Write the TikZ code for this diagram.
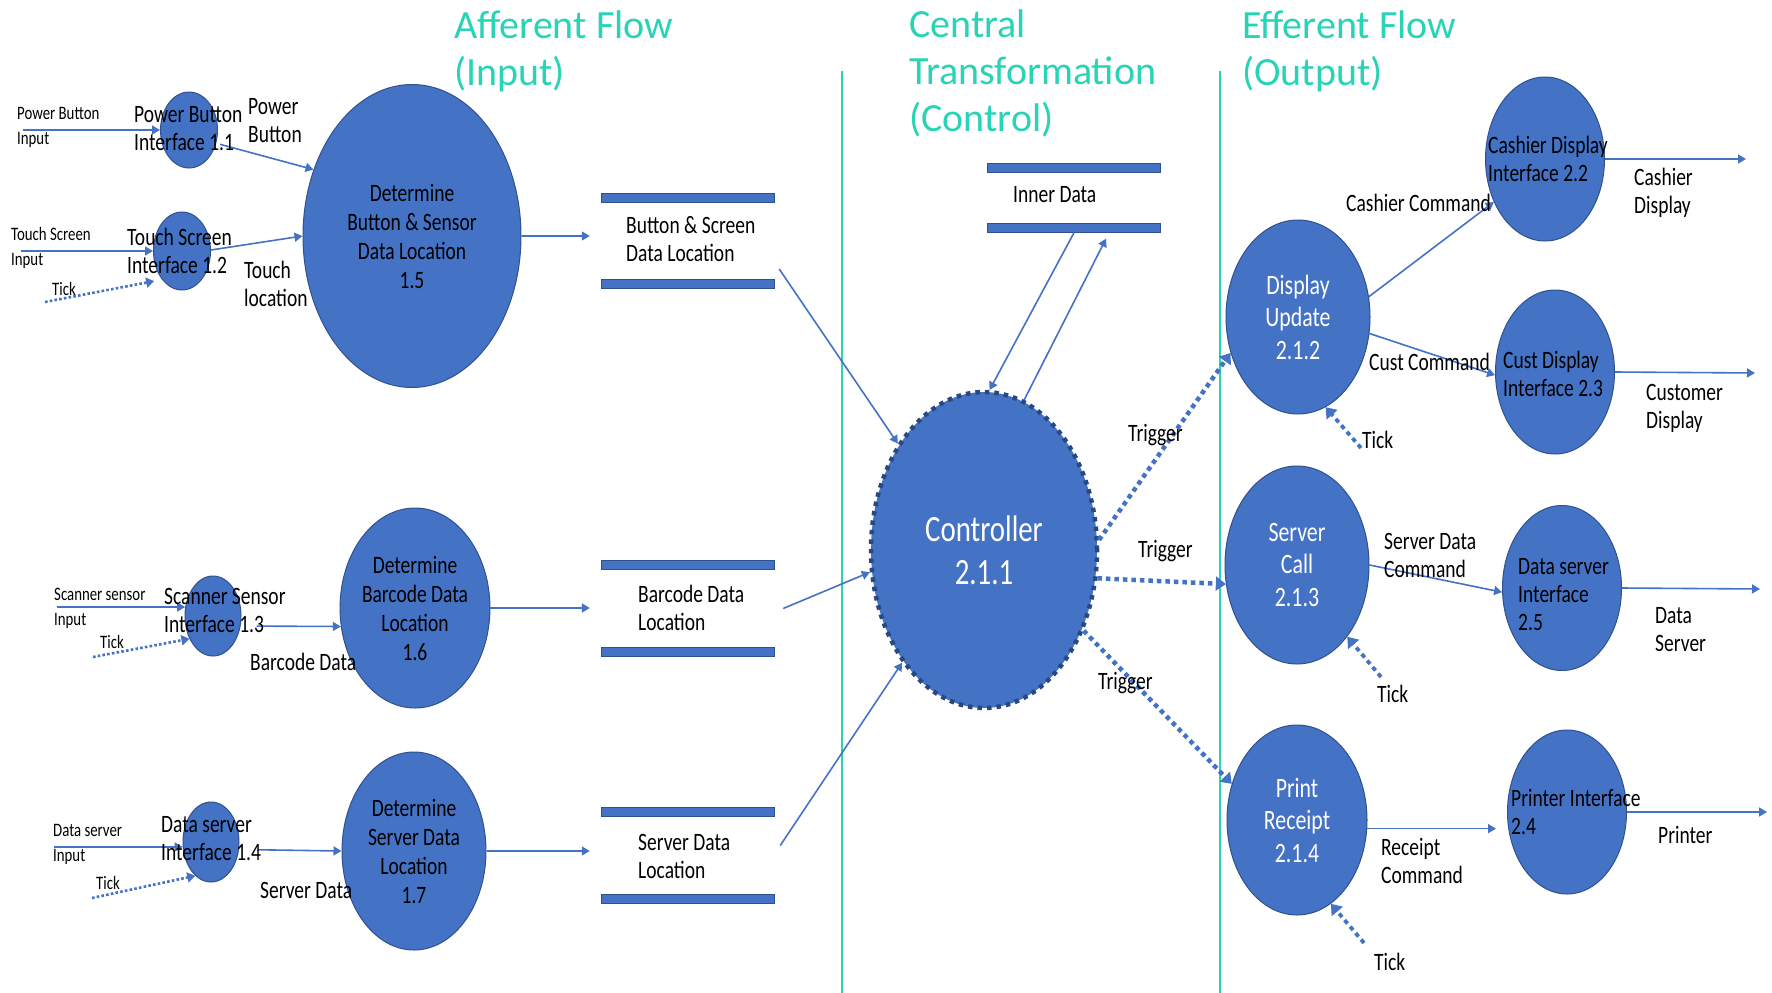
\documentclass[tikz,border=0pt]{standalone}
\usepackage{fontspec}
\setmainfont[FakeStretch=0.78]{Carlito}
\newfontfamily\ttlfont{Carlito}
\usepackage{tikz}
\usetikzlibrary{shapes.geometric,arrows.meta}

\begin{document}
\begin{tikzpicture}[x=1pt,y=1pt,yscale=-1,xscale=1,
  proc/.style={ellipse,fill={rgb,255:red,68;green,114;blue,196},draw={rgb,255:red,47;green,82;blue,143},line width=1pt,inner sep=0pt,align=center,font=\fontsize{25}{29}\selectfont},
  wproc/.style={proc,text=white,font=\fontsize{28}{32.5}\selectfont},
  ctrl/.style={proc,text=white,draw={rgb,255:red,40;green,72;blue,130},line width=4.5pt,dash pattern={on 4.5pt off 5pt},font=\fontsize{37}{43}\selectfont},
  store/.style={minimum width=172pt,inner sep=0pt},
  bar/.style={fill={rgb,255:red,68;green,114;blue,196},draw={rgb,255:red,47;green,82;blue,143},line width=0.8pt},
  flow/.style={draw={rgb,255:red,68;green,114;blue,196},line width=1.6pt,-{Triangle[width=9pt,length=8pt]}},
  trig/.style={draw={rgb,255:red,68;green,114;blue,196},line width=4.5pt,dash pattern={on 4.5pt off 4pt},-{Triangle[width=14pt,length=10pt]}},
  tickl/.style={draw={rgb,255:red,68;green,114;blue,196},line width=2.6pt,dash pattern={on 2.6pt off 2.2pt},-{Triangle[width=10pt,length=8pt]}},
  sep/.style={draw={rgb,255:red,41;green,211;blue,182},line width=1.8pt},
  ttl/.style={anchor=west,align=left,inner sep=0pt,text={rgb,255:red,41;green,211;blue,182},font=\ttlfont\fontsize{40}{47}\selectfont},
  lbl/.style={anchor=west,align=left,inner sep=0pt,font=\fontsize{25}{28}\selectfont},
  sml/.style={anchor=west,align=left,inner sep=0pt,font=\fontsize{19}{25}\selectfont}]
\useasboundingbox (0,0) rectangle (1772,993);
\fill[white] (0,0) rectangle (1772,993);

%Titles
\node[ttl] (ttlin) at (454,51) {Afferent Flow\\(Input)};
\node[ttl] (ttlctl) at (909,73) {Central\\Transformation\\(Control)};
\node[ttl] (ttlout) at (1242,51) {Efferent Flow\\(Output)};
%Straight Lines
\draw[sep] (842,71) -- (842,993);
\draw[sep] (1220,71) -- (1220,993);

%Shapes: processes
\node[proc,minimum width=57pt,minimum height=76pt] (p11) at (189,130) {};
\node[proc,minimum width=57pt,minimum height=78pt] (p12) at (182,251) {};
\node[proc,minimum width=56pt,minimum height=80pt] (p13) at (213,616) {};
\node[proc,minimum width=56pt,minimum height=80pt] (p14) at (211,842) {};
\node[proc,minimum width=218pt,minimum height=303pt] (p15) at (412,236) {Determine\\Button \& Sensor\\Data Location\\1.5};
\node[proc,minimum width=144pt,minimum height=200pt] (p16) at (415,608) {Determine\\Barcode Data\\Location\\1.6};
\node[proc,minimum width=144pt,minimum height=198pt] (p17) at (414,851) {Determine\\Server Data\\Location\\1.7};
\node[ctrl,minimum width=226pt,minimum height=316pt] (ctl) at (984,550) {Controller\\2.1.1};
\node[wproc,minimum width=144pt,minimum height=194pt] (du) at (1298,317) {Display\\Update\\2.1.2};
\node[wproc,minimum width=144pt,minimum height=198pt] (sc) at (1297,565) {Server\\Call\\2.1.3};
\node[wproc,minimum width=140pt,minimum height=190pt] (pr) at (1297,820) {Print\\Receipt\\2.1.4};
\node[proc,minimum width=119pt,minimum height=164pt] (cd) at (1545,159) {};
\node[proc,minimum width=119pt,minimum height=164pt] (cu) at (1555,372) {};
\node[proc,minimum width=119pt,minimum height=165pt] (ds) at (1562,588) {};
\node[proc,minimum width=119pt,minimum height=164pt] (pi) at (1567,812) {};

%Shapes: data stores
\node[store,minimum height=95pt] (st1) at (688,241) {};
\node[store,minimum height=96pt] (st2) at (688,608.5) {};
\node[store,minimum height=96pt] (st3) at (688,855.5) {};
\node[store,minimum height=69pt] (st4) at (1074,198) {};
\foreach \s in {st1,st2,st3,st4} {
  \draw[bar] (\s.north west) rectangle ([yshift=9pt]\s.north east);
  \draw[bar] (\s.south west) rectangle ([yshift=-9pt]\s.south east);
}

%Free ends
\coordinate (ipw) at (23,130);
\coordinate (its) at (21,251);
\coordinate (isc) at (57,607);
\coordinate (ids) at (54,847);
\coordinate (k12) at (45,302);
\coordinate (k13) at (93,657);
\coordinate (k14) at (92,898);
\coordinate (kdu) at (1361,448);
\coordinate (ksc) at (1381,677);
\coordinate (kpr) at (1364,943);
\coordinate (oc) at (1746,159);
\coordinate (ou) at (1755,373);
\coordinate (od) at (1760,589);
\coordinate (op) at (1767,812);

%Straight Lines: afferent
\draw[flow] (ipw) -- (p11.west);
\draw[flow] (its) -- (p12.west);
\draw[flow] (isc) -- (p13.162);
\draw[flow] (ids) -- (p14.190);
\draw[tickl,shorten >=8pt] (k12) -- (p12.235);
\draw[tickl] (k13) -- (p13.224);
\draw[tickl] (k14) -- (p14.245);
\draw[flow,shorten <=4pt] (p11.-26) -- (p15.146);
\draw[flow] (p12.2) -- (p15.west);
\draw[flow,shorten <=16pt] (p13.-20) -- (p16.194);
\draw[flow,shorten <=18pt] (p14.-15) -- (p17.west);
\draw[flow,shorten >=12pt] (p15.east) -- (p15.east -| st1.west);
\draw[flow,shorten >=12pt] (p16.east) -- (p16.east -| st2.west);
\draw[flow,shorten >=12pt] (p17.east) -- (p17.east -| st3.west);
\draw[flow] ([shift={(5,28)}]st1.east) -- (ctl.129);
\draw[flow] ([xshift=9pt]st2.east) -- (ctl.191);
\draw[flow] ([shift={(6,-10)}]st3.east) -- (ctl.234);
%Straight Lines: inner data
\draw[flow] (st4.south) -- (ctl.88);
\draw[flow] (ctl.75) -- ([shift={(32,6)}]st4.south);
%Straight Lines: triggers
\draw[trig] (ctl.5) -- (du.208);
\draw[trig] (ctl.-14) -- (sc.195);
\draw[trig] (ctl.-39) -- (pr.151);
%Straight Lines: efferent
\draw[flow] (du.16) -- (cd.220);
\draw[flow] (du.-13) -- (cu.183);
\draw[flow] (sc.east) -- (ds.184);
\draw[flow,shorten >=11pt] (pr.-7) -- (pr.-7 -| pi.west);
\draw[flow] (cd.east) -- (oc);
\draw[flow] (cu.east) -- (ou);
\draw[flow] (ds.east) -- (od);
\draw[flow] (pi.east) -- (op);
\draw[trig,line width=3.8pt] (kdu) -- (du.-73);
\draw[trig,line width=3.8pt] (ksc) -- (sc.-55);
\draw[trig,line width=3.8pt] (kpr) -- (pr.-68);

% Text Node
\node[sml] (tpbi) at (17,127.5) {Power Button\\Input};
\node[lbl] (tp11) at (134,129) {Power Button\\Interface 1.1};
\node[lbl] (tpb) at (248,120.5) {Power\\Button};
\node[sml] (ttsi) at (11,247.5) {Touch Screen\\Input};
\node[lbl] (tp12) at (127,251) {Touch Screen\\Interface 1.2};
\node[sml] (tk12) at (52,289) {Tick};
\node[lbl] (ttl12) at (244,283.5) {Touch\\location};
\node[sml] (tssi) at (54,608) {Scanner sensor\\Input};
\node[lbl] (tp13) at (164,610) {Scanner Sensor\\Interface 1.3};
\node[sml] (tk13) at (100,642) {Tick};
\node[lbl] (tbd) at (250,662) {Barcode Data};
\node[sml] (tdsi) at (53,844) {Data server\\Input};
\node[lbl] (tp14) at (161,839) {Data server\\Interface 1.4};
\node[sml] (tk14) at (96,883) {Tick};
\node[lbl] (tsd) at (260,890) {Server Data};
% Text Node
\node[lbl] (tst1) at (626,239) {Button \& Screen\\Data Location};
\node[lbl] (tst2) at (638,607.5) {Barcode Data\\Location};
\node[lbl] (tst3) at (638,856) {Server Data\\Location};
\node[lbl] (tst4) at (1013,195) {Inner Data};
\node[lbl] (ttr1) at (1128,435) {Trigger};
\node[lbl] (ttr2) at (1138,551) {Trigger};
\node[lbl] (ttr3) at (1098,683) {Trigger};
% Text Node
\node[lbl] (tcc) at (1346,203) {Cashier Command};
\node[lbl] (tcd) at (1488,159) {Cashier Display\\Interface 2.2};
\node[lbl] (tcdo) at (1634,192.5) {Cashier\\Display};
\node[lbl] (tuc) at (1369,362) {Cust Command};
\node[lbl] (tcu) at (1503,374) {Cust Display\\Interface 2.3};
\node[lbl] (tcuo) at (1646,408.5) {Customer\\Display};
\node[lbl] (tkdu) at (1362,440) {Tick};
\node[lbl] (tsdc) at (1384,555) {Server Data\\Command};
\node[lbl] (tds) at (1518,594.5) {Data server\\Interface\\2.5};
\node[lbl] (tdso) at (1655,630) {Data\\Server};
\node[lbl] (tksc) at (1377,694) {Tick};
\node[lbl] (tpi) at (1511,812) {Printer Interface\\2.4};
\node[lbl] (trc) at (1381,860.5) {Receipt\\Command};
\node[lbl] (tpio) at (1658,835) {Printer};
\node[lbl] (tkpr) at (1374,962) {Tick};

\end{tikzpicture}
\end{document}
